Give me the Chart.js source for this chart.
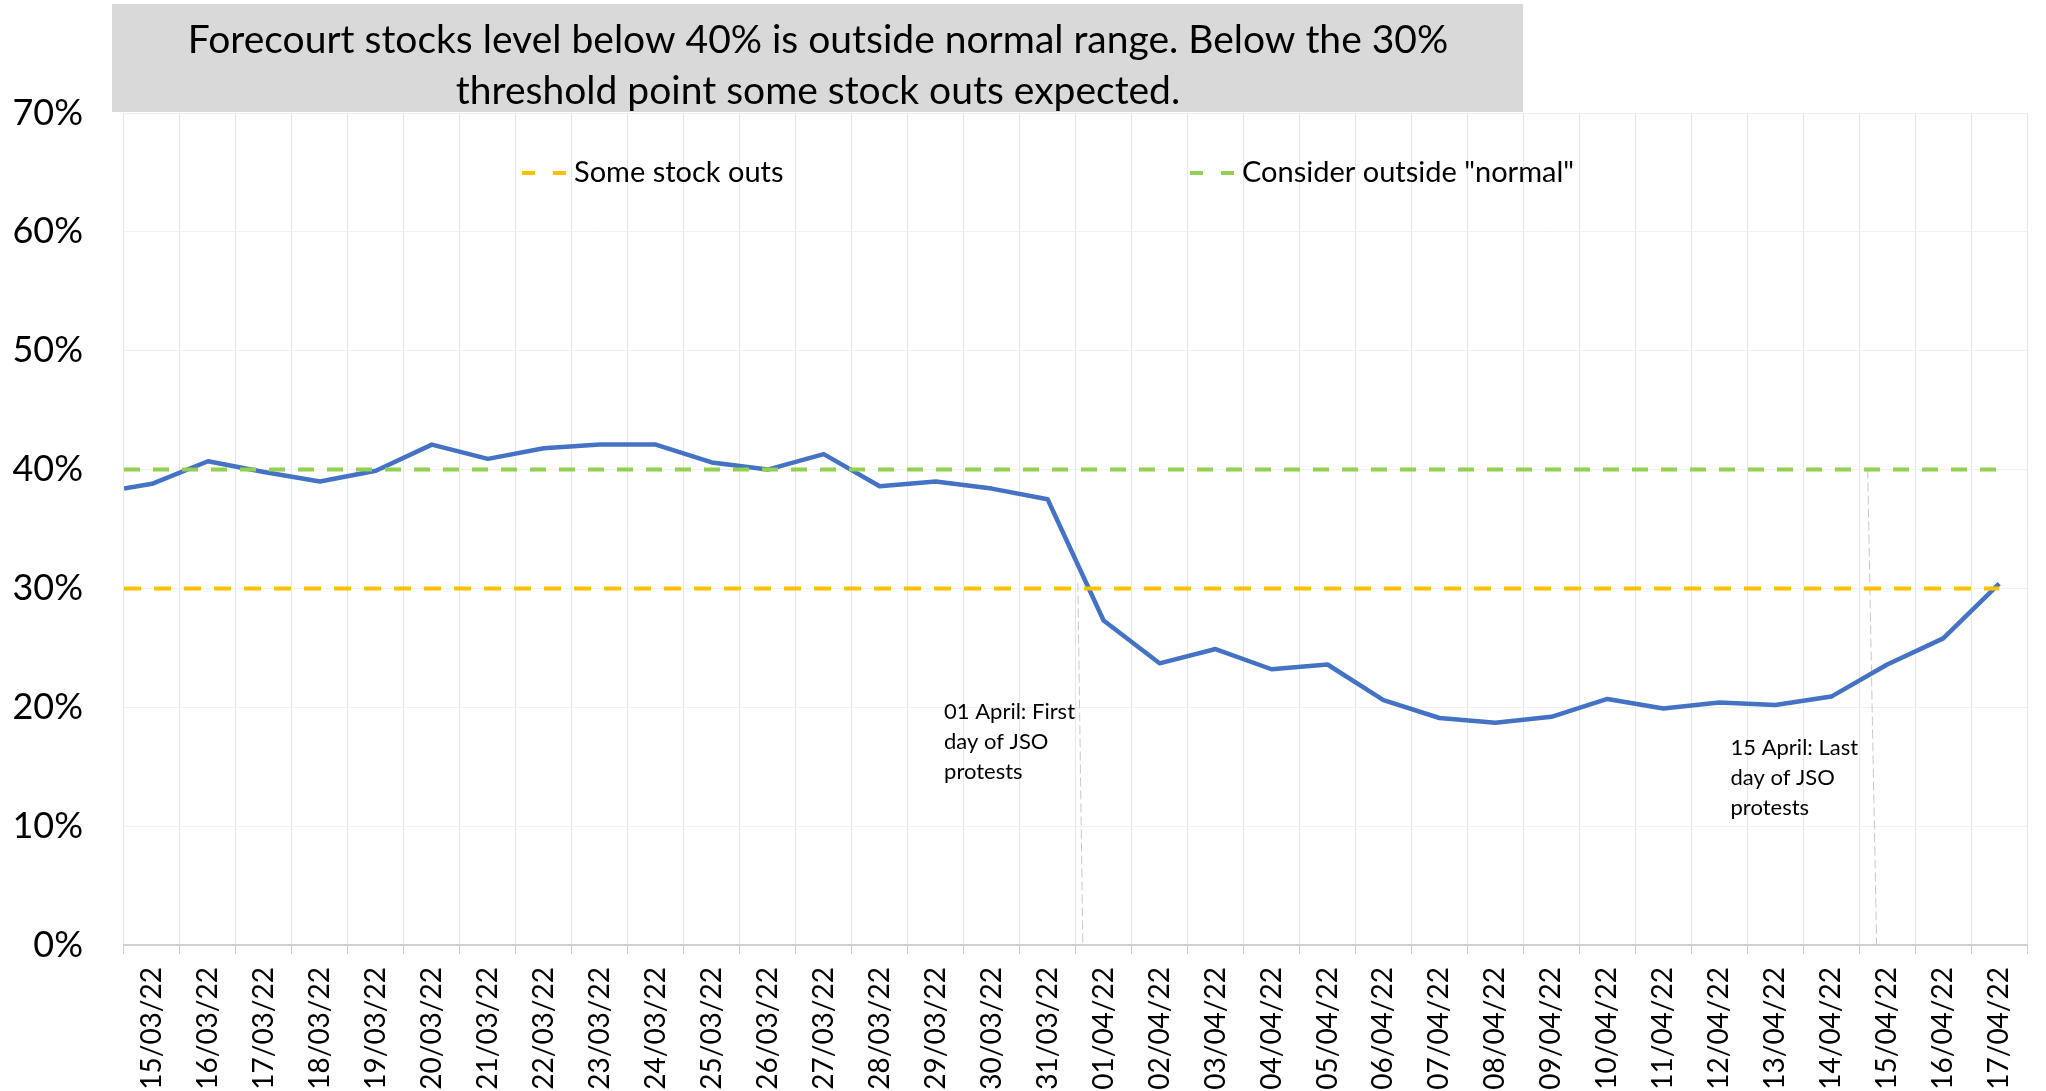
<!DOCTYPE html>
<html>
<head>
<meta charset="utf-8">
<script src="https://cdn.jsdelivr.net/npm/chart.js@4.4.1/dist/chart.umd.min.js"></script>
<style>
  html, body { margin: 0; padding: 0; background: #fff; }
  #wrap { width: 2046px; height: 1091px; position: relative; }
</style>
</head>
<body>
<div id="wrap"><canvas id="stock-chart"></canvas></div>
<script>
// Data
const dateLabels = [
  '15/03/22','16/03/22','17/03/22','18/03/22','19/03/22','20/03/22','21/03/22','22/03/22','23/03/22',
  '24/03/22','25/03/22','26/03/22','27/03/22','28/03/22','29/03/22','30/03/22','31/03/22',
  '01/04/22','02/04/22','03/04/22','04/04/22','05/04/22','06/04/22','07/04/22','08/04/22','09/04/22',
  '10/04/22','11/04/22','12/04/22','13/04/22','14/04/22','15/04/22','16/04/22','17/04/22'
];
// the line starts at the left edge of the axis, then one value per day
const lineStartLevel = 38.4;
const stockLevels = [
  38.8, 40.7, 39.8, 39.0, 39.9, 42.1, 40.9, 41.8, 42.1, 42.1, 40.6, 40.0, 41.3, 38.6, 39.0, 38.4, 37.5,
  27.3, 23.7, 24.9, 23.2, 23.6, 20.6, 19.1, 18.7, 19.2, 20.7, 19.9, 20.4, 20.2, 20.9, 23.6, 25.8, 30.4
];
const stockOutLevel = 30;
const normalLevel = 40;
const titleLines = [
  'Forecourt stocks level below 40% is outside normal range. Below the 30%',
  'threshold point some stock outs expected.'
];
const notes = [
  { lines: ['01 April: First', 'day of JSO', 'protests'], x: 14.15, y: 20.5, lineX: [16.54, 16.63], lineTop: 30.5 },
  { lines: ['15 April: Last', 'day of JSO', 'protests'], x: 28.2, y: 17.5, lineX: [30.65, 30.81], lineTop: 40 }
];

const FONT = 'Lato, "Open Sans", sans-serif';
const lastX = dateLabels.length - 1;

const linePoints = [{ x: -0.5, y: lineStartLevel }].concat(stockLevels.map((v, i) => ({ x: i, y: v })));

function flatLine(level) {
  return [{ x: -0.5, y: level }, { x: lastX, y: level }];
}

const datasets = [
  {
    label: 'Some stock outs', data: flatLine(stockOutLevel), xAxisID: 'xv',
    borderColor: '#ffc000', borderWidth: 4, borderDash: [17, 13], pointRadius: 0, legend: true
  },
  {
    label: 'Consider outside "normal"', data: flatLine(normalLevel), xAxisID: 'xv',
    borderColor: '#92d050', borderWidth: 4, borderDash: [16, 13], pointRadius: 0, legend: true
  },
  {
    label: 'Stock level', data: linePoints, xAxisID: 'xv',
    borderColor: '#4472c4', borderWidth: 4.5, pointRadius: 0, borderJoinStyle: 'round'
  }
];
for (const n of notes) {
  datasets.push({
    label: 'note', data: [{ x: n.lineX[0], y: n.lineTop }, { x: n.lineX[1], y: 0 }], xAxisID: 'xv',
    borderColor: '#c8c8c8', borderWidth: 1, borderDash: [9, 4], pointRadius: 0
  });
}

const decor = {
  id: 'decor',
  beforeDraw(chart) {
    const ctx = chart.ctx;
    ctx.save();
    ctx.fillStyle = '#d9d9d9';
    ctx.fillRect(112, 4, 1411, 108);
    ctx.fillStyle = '#000';
    ctx.font = `39px ${FONT}`;
    ctx.textAlign = 'center';
    ctx.textBaseline = 'middle';
    ctx.fillText(titleLines[0], 818, 40);
    ctx.fillText(titleLines[1], 818, 91);
    ctx.restore();
  },
  afterDatasetsDraw(chart) {
    const ctx = chart.ctx;
    const xs = chart.scales.xv, ys = chart.scales.y;
    ctx.save();
    // notes
    ctx.fillStyle = '#000';
    ctx.font = `22px ${FONT}`;
    ctx.textAlign = 'left';
    ctx.textBaseline = 'top';
    for (const n of notes) {
      const px = xs.getPixelForValue(n.x);
      const py = ys.getPixelForValue(n.y);
      n.lines.forEach((t, i) => ctx.fillText(t, px, py + i * 30));
    }
    // legend
    const legendX = [522, 1190];
    const legendY = 173;
    const items = chart.data.datasets.filter(d => d.legend);
    items.forEach((d, i) => {
      const x0 = legendX[i];
      ctx.strokeStyle = d.borderColor;
      ctx.lineWidth = 4;
      ctx.setLineDash([13, 18]);
      ctx.beginPath();
      ctx.moveTo(x0, legendY);
      ctx.lineTo(x0 + 45, legendY);
      ctx.stroke();
      ctx.setLineDash([]);
      ctx.fillStyle = '#000';
      ctx.font = `29px ${FONT}`;
      ctx.textBaseline = 'middle';
      ctx.fillText(d.label, x0 + 52, legendY);
    });
    ctx.restore();
  }
};

new Chart(document.getElementById('stock-chart'), {
  type: 'line',
  data: { labels: dateLabels, datasets },
  plugins: [decor],
  options: {
    responsive: true,
    maintainAspectRatio: false,
    animation: false,
    layout: { padding: { top: 113, right: 13, left: 0, bottom: 0 } },
    plugins: { legend: { display: false }, tooltip: { enabled: false }, title: { display: false } },
    scales: {
      x: {
        type: 'category',
        offset: true,
        grid: { offset: true, color: '#e6e6e6', tickLength: 9, tickColor: '#d0d0d0' },
        border: { color: '#d0d0d0', width: 2 },
        ticks: {
          autoSkip: false, minRotation: 90, maxRotation: 90, padding: 13,
          color: '#000', font: { family: FONT, size: 28 }
        },
        afterFit: s => { s.height = 146; }
      },
      xv: { type: 'linear', display: false, min: -0.5, max: lastX + 0.5 },
      y: {
        min: 0, max: 70,
        ticks: { stepSize: 10, padding: 41, color: '#000', font: { family: FONT, size: 36 }, callback: v => v + '%' },
        grid: { color: '#f0f0f0', drawTicks: false },
        border: { display: false },
        afterFit: s => { s.width = 124; }
      }
    }
  }
});
</script>
</body>
</html>
